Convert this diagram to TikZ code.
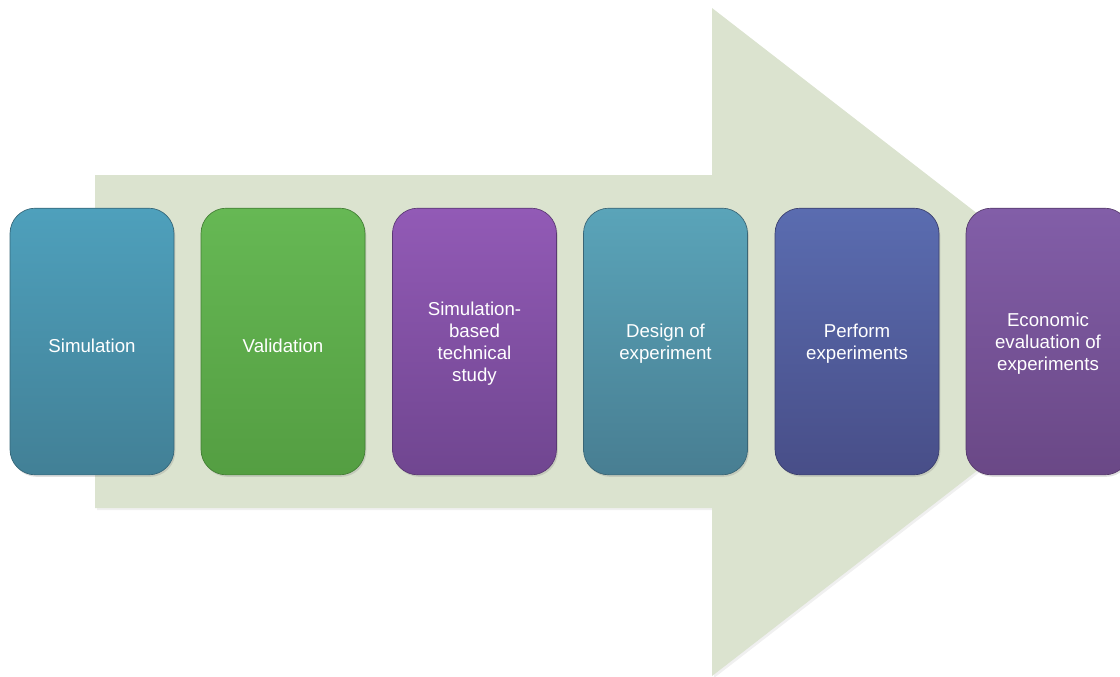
\documentclass[tikz,border=0pt]{standalone}
\usepackage{fontspec}
\setmainfont{Liberation Sans}
\usetikzlibrary{shadows}

\definecolor{arrowgreen}{RGB}{219,227,207}
\definecolor{simtop}{RGB}{78,160,188}
\definecolor{simbot}{RGB}{66,128,150}
\definecolor{valtop}{RGB}{102,184,84}
\definecolor{valbot}{RGB}{84,158,66}
\definecolor{studytop}{RGB}{146,90,182}
\definecolor{studybot}{RGB}{112,70,144}
\definecolor{doetop}{RGB}{90,164,185}
\definecolor{doebot}{RGB}{72,126,146}
\definecolor{perftop}{RGB}{90,108,176}
\definecolor{perfbot}{RGB}{72,78,136}
\definecolor{econtop}{RGB}{130,94,168}
\definecolor{econbot}{RGB}{106,72,134}

\tikzset{
  stagebox/.style 2 args={draw=#2!80!black, line width=0.5pt, rounded corners=19pt,
    top color=#1, bottom color=#2, text=white, align=center, text depth=-6pt,
    minimum width=123pt, minimum height=200pt, font=\fontsize{14}{16.5}\selectfont,
    drop shadow={shadow xshift=1pt, shadow yshift=-1.5pt, opacity=0.25}},
  oneline/.style={text height=16pt},
}

\begin{document}
\begin{tikzpicture}[x=0.75pt, y=-0.75pt]
	\useasboundingbox (0, 0) rectangle (1120, 676);
	\clip (0, 0) rectangle (1120, 676);

	% big arrow behind the stages
	\fill[arrowgreen, drop shadow={shadow xshift=1.5pt, shadow yshift=-1.5pt, opacity=0.12}]
		(95, 175) -- (712, 175) -- (712, 8) -- (1143, 342) -- (712, 676)
		-- (712, 508) -- (95, 508) -- cycle;

	% stages
	\node[stagebox={simtop}{simbot}, oneline] (sim) at (92, 341.5) {Simulation};
	\node[stagebox={valtop}{valbot}, oneline] (val) at (283, 341.5) {Validation};
	\node[stagebox={studytop}{studybot}] (study) at (474.5, 341.5) {Simulation-\\based\\technical\\study};
	\node[stagebox={doetop}{doebot}] (doe) at (665.5, 341.5) {Design of\\experiment};
	\node[stagebox={perftop}{perfbot}] (perf) at (857, 341.5) {Perform\\experiments};
	\node[stagebox={econtop}{econbot}] (econ) at (1048, 341.5) {Economic\\evaluation of\\experiments};
\end{tikzpicture}
\end{document}
